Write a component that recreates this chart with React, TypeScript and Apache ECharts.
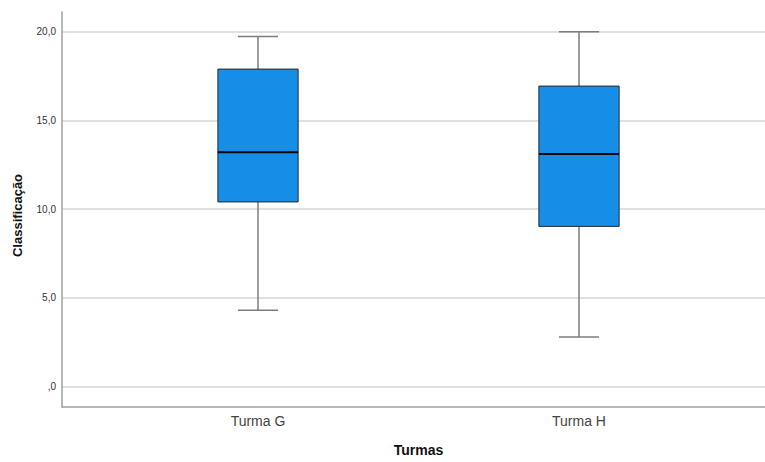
import React, { useEffect, useRef } from "react";
import * as echarts from "echarts";

const categories = ["Turma G", "Turma H"];
// [min, q1, median, q3, max]
const boxStats = [
  [4.28, 10.39, 13.19, 17.89, 19.73],
  [2.77, 9.01, 13.1, 16.93, 20.0],
];
const yTicks = [0, 5, 10, 15, 20];

const fmt = (v: number) => (v === 0 ? ",0" : v.toFixed(1).replace(".", ","));

export default function App() {
  const ref = useRef<HTMLDivElement>(null);
  useEffect(() => {
    if (!ref.current) return;
    const chart = echarts.init(ref.current, undefined, { renderer: "svg" });
    const font = "Liberation Sans, Arial, sans-serif";
    const data = boxStats.map((s, i) => [i, ...s]);
    chart.setOption({
      animation: false,
      backgroundColor: "#ffffff",
      textStyle: { fontFamily: font },
      grid: [
        { left: 62, top: 12, width: 713, height: 395 },
        { left: 62, top: 31.7, width: 713, height: 354.8 },
        { left: 97.5, top: 31.7, width: 642, height: 354.8 },
      ],
      xAxis: [
        {
          gridIndex: 0,
          type: "value",
          min: 0,
          max: 1,
          axisLine: { show: true, lineStyle: { color: "#a0a0a0", width: 1.5 } },
          axisTick: { show: false },
          axisLabel: { show: false },
          splitLine: { show: false },
        },
        {
          gridIndex: 1,
          type: "value",
          min: 0,
          max: 1,
          show: false,
        },
        {
          gridIndex: 2,
          type: "category",
          data: categories,
          axisLine: { show: false },
          axisTick: { show: false },
          axisLabel: { margin: 28, fontSize: 14, color: "#444", fontFamily: font },
          name: "Turmas",
          nameLocation: "middle",
          nameGap: 57,
          nameTextStyle: { fontSize: 14, fontWeight: "bold", color: "#111", fontFamily: font },
        },
      ],
      yAxis: [
        {
          gridIndex: 0,
          type: "value",
          min: 0,
          max: 1,
          axisLine: { show: true, lineStyle: { color: "#a0a0a0", width: 1.5 } },
          axisTick: { show: false },
          axisLabel: { show: false },
          splitLine: { show: false },
          name: "Classificação",
          nameLocation: "middle",
          nameRotate: 90,
          nameGap: 38,
          nameTextStyle: {
            fontSize: 13,
            fontWeight: "bold",
            color: "#111",
            fontFamily: font,
            padding: [0, 12, 0, 0],
          },
        },
        {
          gridIndex: 1,
          type: "value",
          min: yTicks[0],
          max: yTicks[yTicks.length - 1],
          interval: 5,
          axisLine: { show: false },
          axisTick: { show: false },
          axisLabel: { formatter: fmt, fontSize: 10, color: "#333", margin: 6, fontFamily: font },
          splitLine: { show: true, lineStyle: { color: "#d6d6d6", width: 1.5 } },
        },
        {
          gridIndex: 2,
          type: "value",
          min: yTicks[0],
          max: yTicks[yTicks.length - 1],
          show: false,
        },
      ],
      series: [
        {
          type: "custom",
          xAxisIndex: 2,
          yAxisIndex: 2,
          data,
          renderItem: (params: any, api: any) => {
            const idx = api.value(0);
            const band = api.size([1, 0])[0];
            const pMin = api.coord([idx, api.value(1)]);
            const pQ1 = api.coord([idx, api.value(2)]);
            const pMed = api.coord([idx, api.value(3)]);
            const pQ3 = api.coord([idx, api.value(4)]);
            const pMax = api.coord([idx, api.value(5)]);
            const cx = pMed[0];
            const bw = band * 0.25;
            const cw = band * 0.125;
            const wStyle = { stroke: "#7d7d7d", lineWidth: 1.5 };
            return {
              type: "group",
              children: [
                { type: "line", shape: { x1: cx, y1: pMax[1], x2: cx, y2: pQ3[1] }, style: wStyle },
                { type: "line", shape: { x1: cx, y1: pQ1[1], x2: cx, y2: pMin[1] }, style: wStyle },
                { type: "line", shape: { x1: cx - cw / 2, y1: pMax[1], x2: cx + cw / 2, y2: pMax[1] }, style: wStyle },
                { type: "line", shape: { x1: cx - cw / 2, y1: pMin[1], x2: cx + cw / 2, y2: pMin[1] }, style: wStyle },
                {
                  type: "rect",
                  shape: { x: cx - bw / 2, y: pQ3[1], width: bw, height: pQ1[1] - pQ3[1] },
                  style: { fill: "#168de6", stroke: "#2a2a2a", lineWidth: 1 },
                },
                {
                  type: "line",
                  shape: { x1: cx - bw / 2, y1: pMed[1], x2: cx + bw / 2, y2: pMed[1] },
                  style: { stroke: "#0a0a0a", lineWidth: 2 },
                },
              ],
            };
          },
        },
      ],
    });
    return () => chart.dispose();
  }, []);
  return (
    <div
      ref={ref}
      style={{ position: "fixed", left: 0, top: 0, width: 765, height: 462, background: "#fff" }}
    />
  );
}
